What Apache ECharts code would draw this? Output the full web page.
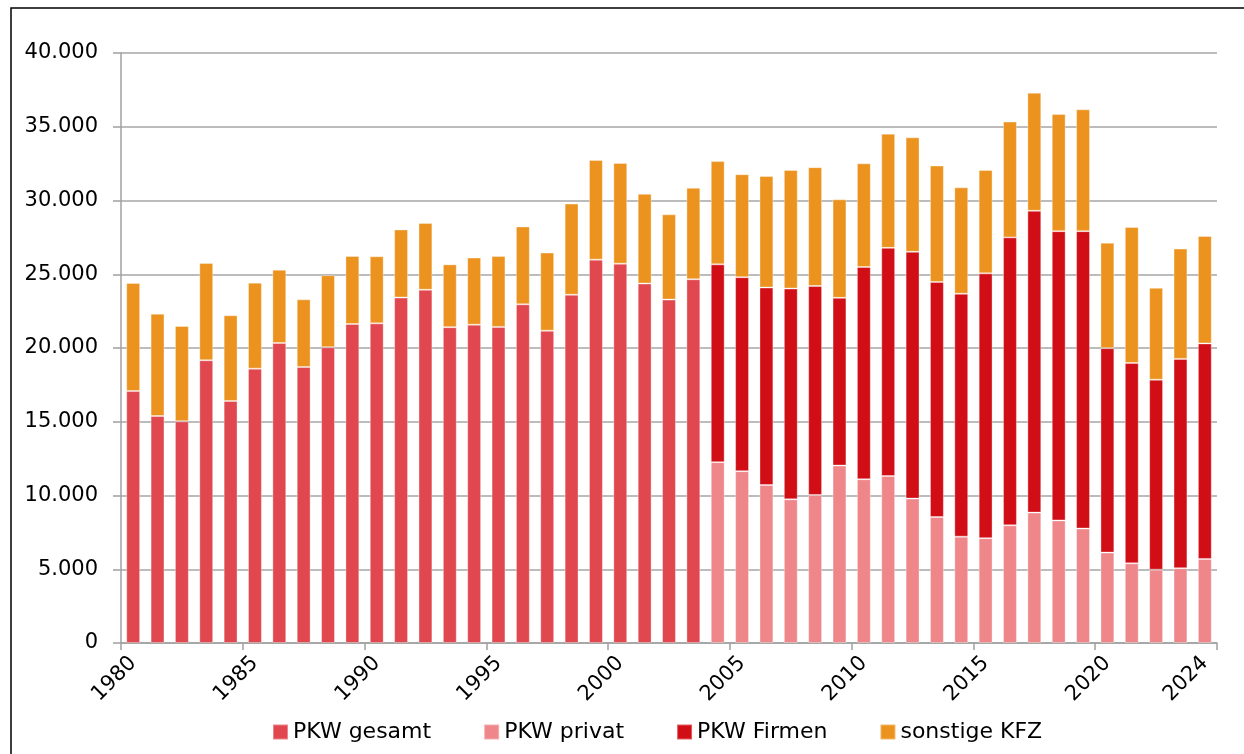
<!DOCTYPE html>
<html>
<head>
<meta charset="utf-8">
<script src="https://cdn.jsdelivr.net/npm/echarts@6/dist/echarts.min.js"></script>
<style>
html,body{margin:0;padding:0;background:#fff;}
#chart{width:1244px;height:754px;}
</style>
</head>
<body>
<div id="chart"></div>
<script>
const years = [];
for (let y = 1980; y <= 2024; y++) years.push(String(y));

const seriesNames = ['PKW gesamt', 'PKW privat', 'PKW Firmen', 'sonstige KFZ'];

// 1980-2003 only total cars
const pkwGesamt = [17080,15390,15030,19170,16410,18600,20340,18710,20050,21630,
  21670,23420,23950,21410,21580,21430,22960,21170,23610,25990,
  25720,24370,23280,24660,
  null,null,null,null,null,null,null,null,null,null,null,null,null,null,null,null,null,null,null,null,null];

// 2004-2024 split into private / company
const pkwPrivat = [null,null,null,null,null,null,null,null,null,null,null,null,
  null,null,null,null,null,null,null,null,null,null,null,null,
  12260,11650,10710,9740,10030,12030,11100,11320,9790,8540,
  7210,7110,7980,8840,8310,7760,6130,5400,4970,5070,5700];

const pkwFirmen = [null,null,null,null,null,null,null,null,null,null,null,null,
  null,null,null,null,null,null,null,null,null,null,null,null,
  13410,13150,13390,14290,14170,11370,14390,15470,16730,15940,
  16470,17950,19520,20460,19610,20160,13860,13580,12880,14190,14610];

const sonstigeKfz = [7330,6940,6460,6590,5810,5830,4970,4590,4880,4610,
  4550,4620,4530,4260,4550,4800,5280,5300,6180,6760,
  6830,6080,5780,6200,
  7000,6980,7560,8040,8060,6680,7030,7740,7760,7890,
  7210,7010,7850,8010,7940,8260,7150,9220,6230,7480,7290];

const yTicks = [0,5000,10000,15000,20000,25000,30000,35000,40000];

const colors = ['#E0474E', '#EE868A', '#D10D15', '#EB931E'];
const FONT = 'DejaVu Sans';

const chart = echarts.init(document.getElementById('chart'), null, {renderer: 'canvas'});

function fmt(v) {
  return String(v).replace(/\B(?=(\d{3})+(?!\d))/g, '.');
}

const dataArr = [pkwGesamt, pkwPrivat, pkwFirmen, sonstigeKfz];

chart.setOption({
  animation: false,
  backgroundColor: '#fff',
  textStyle: {fontFamily: FONT},
  graphic: [{
    type: 'rect',
    shape: {x: 11, y: 8, width: 1300, height: 800},
    style: {fill: 'none', stroke: '#000', lineWidth: 1.5},
    silent: true,
    z: 100
  }],
  grid: {left: 121, right: 27, top: 53, bottom: 111, containLabel: false},
  legend: {
    left: 267,
    top: 716,
    itemWidth: 15,
    itemHeight: 15,
    itemGap: 52,
    icon: 'rect',
    textStyle: {fontFamily: FONT, fontSize: 22, color: '#000'},
    data: seriesNames
  },
  xAxis: {
    type: 'category',
    data: years,
    boundaryGap: true,
    axisLine: {show: true, lineStyle: {color: '#a0a0a0', width: 1.5}},
    axisTick: {show: true, interval: 4, length: 7, lineStyle: {color: '#a0a0a0', width: 1.5}},
    axisLabel: {
      interval: function (i) { return i % 5 === 0 || i === years.length - 1; },
      rotate: 45,
      margin: 17,
      fontFamily: FONT,
      fontSize: 21,
      color: '#000'
    }
  },
  yAxis: {
    type: 'value',
    min: 0,
    max: 40000,
    interval: 5000,
    axisLine: {show: true, lineStyle: {color: '#a0a0a0', width: 1.5}},
    axisTick: {show: true, length: 8, lineStyle: {color: '#a0a0a0', width: 1.5}},
    splitLine: {show: true, lineStyle: {color: '#a6a6a6', width: 1.5}},
    axisLabel: {
      margin: 23,
      fontFamily: FONT,
      fontSize: 21,
      color: '#000',
      formatter: function (v) { return yTicks.indexOf(v) >= 0 ? fmt(v) : ''; }
    }
  },
  series: seriesNames.map(function (name, k) {
    return {
      name: name,
      type: 'bar',
      stack: 'total',
      barWidth: '57%',
      data: dataArr[k],
      itemStyle: {color: colors[k], borderColor: 'rgba(255,255,255,0.35)', borderWidth: 1}
    };
  })
});
</script>
</body>
</html>
